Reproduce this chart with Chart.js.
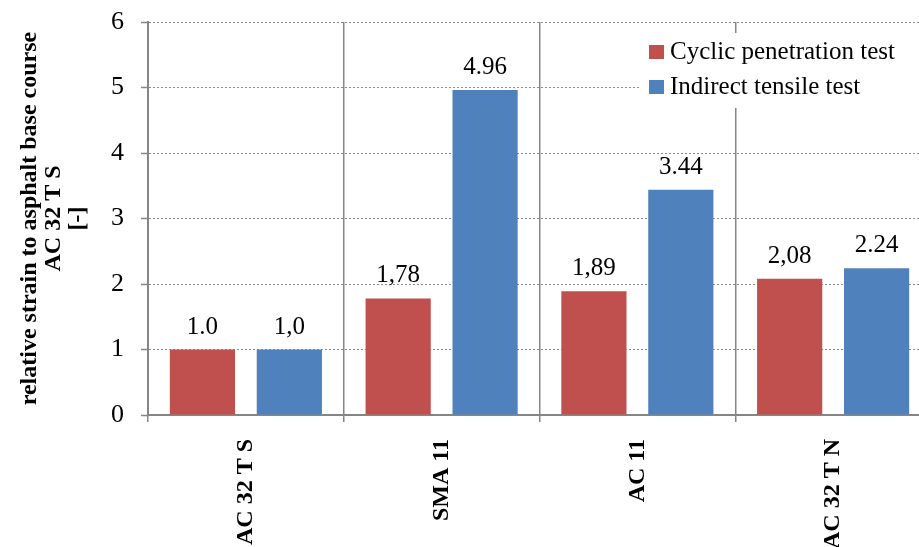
<!DOCTYPE html>
<html>
<head>
<meta charset="utf-8">
<script src="https://cdn.jsdelivr.net/npm/chart.js@4"></script>
<style>
  html, body { margin: 0; padding: 0; background: #fff; overflow: hidden; }
</style>
</head>
<body>
<canvas id="chart" width="935" height="560"></canvas>
<script>
const categories = ["AC 32 T S", "SMA 11", "AC 11", "AC 32 T N"];
const cyclicValues = [1.0, 1.78, 1.89, 2.08];
const tensileValues = [1.0, 4.96, 3.44, 2.24];
// labels as printed in the figure (mixed decimal separators)
const cyclicLabels = ["1.0", "1,78", "1,89", "2,08"];
const tensileLabels = ["1,0", "4.96", "3.44", "2.24"];
const yTicks = [0, 1, 2, 3, 4, 5, 6];

const RED = "#C0504D";
const BLUE = "#4F81BD";
const AXIS = "#868686";
const SERIF = "'Liberation Serif', 'Times New Roman', serif";

const valueLabels = {
  id: "valueLabels",
  afterDatasetsDraw(chart) {
    const ctx = chart.ctx;
    const sets = [cyclicLabels, tensileLabels];
    ctx.save();
    ctx.font = "25px " + SERIF;
    ctx.fillStyle = "#000";
    ctx.textAlign = "center";
    ctx.textBaseline = "bottom";
    chart.data.datasets.forEach((ds, di) => {
      chart.getDatasetMeta(di).data.forEach((bar, i) => {
        ctx.fillText(sets[di][i], bar.x, bar.y - 10);
      });
    });
    ctx.restore();
  }
};

// legend box drawn inside the plot, top right, over the gridline
const boxLegend = {
  id: "boxLegend",
  afterDraw(chart) {
    const ctx = chart.ctx;
    const a = chart.chartArea;
    const left = a.right - 282;
    const top = a.top + 11;
    ctx.save();
    ctx.fillStyle = "#fff";
    ctx.fillRect(left - 9, top, 290, 75);
    ctx.font = "25px " + SERIF;
    ctx.textBaseline = "middle";
    ctx.textAlign = "left";
    chart.data.datasets.forEach((ds, i) => {
      const y = top + 19 + i * 35;
      ctx.fillStyle = ds.backgroundColor;
      ctx.fillRect(left, y - 7, 15, 14);
      ctx.fillStyle = "#000";
      ctx.fillText(ds.label, left + 21, y);
    });
    ctx.restore();
  }
};

new Chart(document.getElementById("chart"), {
  type: "bar",
  data: {
    labels: categories,
    datasets: [
      {
        label: "Cyclic penetration test",
        data: cyclicValues,
        backgroundColor: RED,
        categoryPercentage: 0.888,
        barPercentage: 0.75,
      },
      {
        label: "Indirect tensile test",
        data: tensileValues,
        backgroundColor: BLUE,
        categoryPercentage: 0.888,
        barPercentage: 0.75,
      },
    ],
  },
  options: {
    responsive: false,
    animation: false,
    layout: { padding: { top: 22, right: 4, left: 0, bottom: 0 } },
    plugins: {
      legend: { display: false },
      tooltip: { enabled: false },
    },
    scales: {
      x: {
        offset: true,
        grid: {
          offset: true,
          color: AXIS,
          lineWidth: 1.5,
          tickLength: 7,
          tickColor: AXIS,
        },
        border: { color: AXIS, width: 2 },
        ticks: {
          color: "#000",
          font: { family: SERIF, size: 24, weight: "bold" },
          minRotation: 90,
          maxRotation: 90,
          padding: 17,
        },
        afterFit(scale) {
          scale.height = 145;
          scale.paddingLeft = 0;
          scale.paddingRight = 0;
        },
      },
      y: {
        min: 0,
        max: 6,
        afterBuildTicks(scale) { scale.ticks = yTicks.map(v => ({ value: v })); },
        grid: {
          color: "#8c8c8c",
          lineWidth: 1,
          tickLength: 7,
          tickColor: AXIS,
          tickWidth: 1.5,
          tickBorderDash: [],
        },
        border: { color: AXIS, width: 2, dash: [2, 2] },
        ticks: {
          color: "#000",
          font: { family: SERIF, size: 26 },
          padding: 17,
        },
        title: {
          display: true,
          text: ["relative strain to asphalt base course", "AC 32 T S", "[-]"],
          color: "#000",
          font: { family: SERIF, size: 24, weight: "bold", lineHeight: 1.0 },
          padding: { top: 18, bottom: 0 },
        },
        afterFit(scale) {
          scale.width = 148;
          scale.paddingTop = 0;
          scale.paddingBottom = 0;
        },
      },
    },
  },
  plugins: [valueLabels, boxLegend],
});
</script>
</body>
</html>
